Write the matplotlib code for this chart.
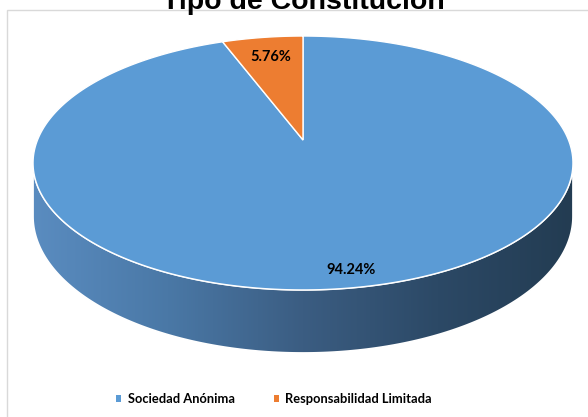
import numpy as np
import matplotlib

matplotlib.use("Agg")
import matplotlib.pyplot as plt
from matplotlib.patches import Polygon, Rectangle
from matplotlib.colors import LinearSegmentedColormap

title = "Tipo de Constitución"
categories = ["Sociedad Anónima", "Responsabilidad Limitada"]
shares = [94.24, 5.76]
colors = ["#5b9bd5", "#ed7d31"]
side_colors = ["#5a8cc0", "#4a78a6", "#3b5d82", "#2c4966", "#233c52"]

W, H = 588, 417
# pie geometry (pixels, y up) with a simple perspective factor
cx, cy = 303, H - 140
A, B = 265.5, 122.8
k = 0.181
D = 51.6


def project(t_deg, drop=0.0):
    t = np.radians(t_deg)
    u, v = np.cos(t), np.sin(t)
    f = 1.0 / (1.0 + k * v)
    return np.column_stack([cx + A * u * f, cy + B * v * f - drop * f])


fig = plt.figure(figsize=(W / 100, H / 100), dpi=100)
ax = fig.add_axes([0, 0, 1, 1])
ax.set_xlim(0, W)
ax.set_ylim(0, H)
ax.axis("off")

# chart border
ax.add_patch(Rectangle((7, -20), W + 20, H - 10 + 20, fill=False,
                       edgecolor="#d9d9d9", linewidth=1))

# slice angles: first slice clockwise from 12 o'clock
total = sum(shares)
angles = []
start = 90.0
for s in shares:
    sweep = 360.0 * s / total
    angles.append((start - sweep, start))
    start -= sweep

# front side wall with horizontal gradient
edge = np.degrees(np.arcsin(k))
ts = np.linspace(180 + edge, 360 - edge, 240)
top = project(ts)
bot = project(ts, D)
side = Polygon(np.vstack([top, bot[::-1]]), closed=True, facecolor="none",
               edgecolor="white", linewidth=1.2, zorder=1.5)
ax.add_patch(side)
cmap = LinearSegmentedColormap.from_list("side", side_colors)
grad = np.linspace(0, 1, 256).reshape(1, -1)
img = ax.imshow(grad, cmap=cmap, aspect="auto",
                extent=[top[:, 0].min(), top[:, 0].max(), bot[:, 1].min(), cy],
                zorder=1)
img.set_clip_path(side)

# top face
for (t1, t2), c in zip(angles, colors):
    arc = project(np.linspace(t1, t2, 300))
    pts = np.vstack([[cx, cy], arc])
    ax.add_patch(Polygon(pts, closed=True, facecolor=c, edgecolor="white",
                         linewidth=1.0, zorder=2))

# data labels
label_pos = [(351, H - 270), (271, H - 57)]
for s, (lx, ly) in zip(shares, label_pos):
    ax.text(lx, ly, f"{s:.2f}%", ha="center", va="center", fontsize=10.5,
            fontweight="bold", family="Lato", color="black", zorder=3)

ax.text(cx, H - 9, title, ha="center", va="baseline", fontsize=20.5,
        fontweight="bold", family="Liberation Sans", color="black", zorder=3)

# legend
handles = [plt.Rectangle((0, 0), 1, 1, facecolor=c) for c in colors]
fig.legend(handles, categories, loc="center", bbox_to_anchor=(274 / W, 1 - 399 / H),
           ncol=2, frameon=False, handlelength=0.42, handleheight=0.42,
           handletextpad=0.5, columnspacing=3.0,
           prop={"family": "Lato", "weight": "bold", "size": 9.3})

fig.savefig("out.png", dpi=100)
